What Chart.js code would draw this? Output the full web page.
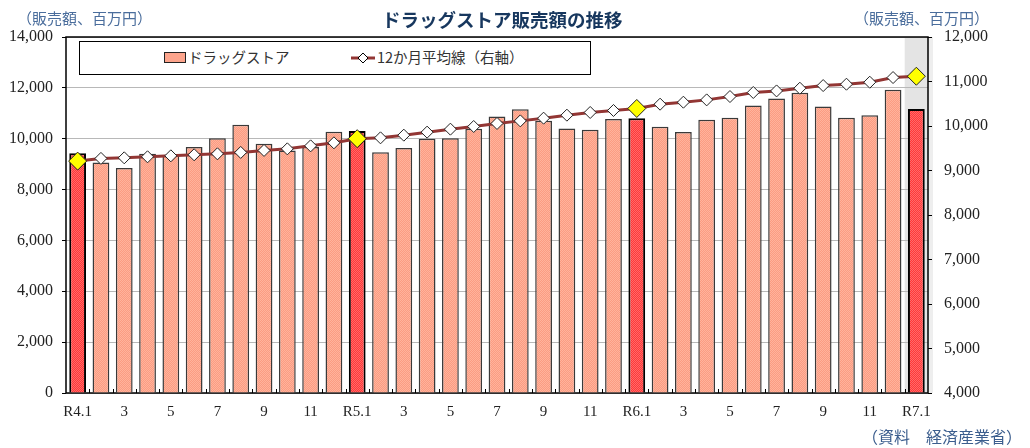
<!DOCTYPE html>
<html>
<head>
<meta charset="utf-8">
<script src="https://cdn.jsdelivr.net/npm/chart.js@4.4.1/dist/chart.umd.min.js"></script>
<style>
html, body { margin: 0; padding: 0; background: #fff; }
#wrap { position: relative; width: 1030px; height: 448px; overflow: hidden; }
#chart { position: absolute; left: 0; top: 0; }
.txt { position: absolute; white-space: nowrap; font-family: "Noto Sans CJK JP", sans-serif; line-height: 1; }
#title { left: 382px; top: 10px; font-size: 18.5px; font-weight: bold; color: #17375e; }
#unitL { left: 17px; top: 10px; font-size: 15px; color: #4a6d9c; }
#unitR { left: 854px; top: 10px; font-size: 15px; color: #4a6d9c; }
#src { left: 862px; top: 428px; font-size: 16px; color: #3c5e8e; }
#legend { position: absolute; left: 79px; top: 41px; width: 510px; height: 32px; border: 1px solid #000; background: #fff; }
#legend .sw { position: absolute; left: 84px; top: 10px; width: 20px; height: 9px; border: 1px solid #222; background: #fca48c; }
#legend svg { position: absolute; left: 271px; top: 6px; }
#legend .lb { position: absolute; top: 8px; font-size: 14.5px; color: #333; font-family: "Noto Sans CJK JP", sans-serif; white-space: nowrap; line-height: 1; }
</style>
</head>
<body>
<div id="wrap">
  <canvas id="chart" width="1030" height="448"></canvas>
  <div class="txt" id="title">ドラッグストア販売額の推移</div>
  <div class="txt" id="unitL">（販売額、百万円）</div>
  <div class="txt" id="unitR">（販売額、百万円）</div>
  <div class="txt" id="src">（資料　経済産業省）</div>
  <div id="legend">
    <div class="sw"></div>
    <span class="lb" style="left:108px">ドラッグストア</span>
    <svg width="24" height="20"><line x1="0" y1="10" x2="24" y2="10" stroke="#933634" stroke-width="3"/><polygon points="12,5 17,10 12,15 7,10" fill="#fff" stroke="#000" stroke-width="1"/></svg>
    <span class="lb" style="left:297px">12か月平均線（右軸）</span>
  </div>
</div>
<script>
// --- データ ---
const labels = [
  'R4.1', '2', '3', '4', '5', '6', '7', '8', '9', '10', '11', '12',
  'R5.1', '2', '3', '4', '5', '6', '7', '8', '9', '10', '11', '12',
  'R6.1', '2', '3', '4', '5', '6', '7', '8', '9', '10', '11', '12',
  'R7.1'
];
// 販売額（百万円）
const sales = [
  9430, 9060, 8850, 9410, 9340, 9670, 10020, 10550, 9800, 9540, 9670, 10270,
  10300, 9470, 9630, 10000, 10020, 10390, 10870, 11160, 10710, 10400, 10350, 10780,
  10800, 10470, 10260, 10750, 10820, 11310, 11580, 11810, 11270, 10820, 10920, 11930,
  11170
];
// 12か月平均線（右軸）
const avg12 = [
  9211, 9272, 9285, 9308, 9330, 9353, 9375, 9406, 9451, 9487, 9554, 9622,
  9715, 9734, 9794, 9862, 9929, 9989, 10057, 10115, 10176, 10243, 10304, 10349,
  10394, 10490, 10535, 10587, 10662, 10753, 10788, 10849, 10909, 10939, 10984, 11089,
  11118
];

// 1月かどうか（色分け用）
const isJan = labels.map(l => l.startsWith('R'));

// 網目模様
function checker(base, dot) {
  const c = document.createElement('canvas');
  c.width = 2; c.height = 2;
  const g = c.getContext('2d');
  g.fillStyle = base; g.fillRect(0, 0, 2, 2);
  g.fillStyle = dot; g.fillRect(0, 0, 1, 1); g.fillRect(1, 1, 1, 1);
  return g.createPattern(c, 'repeat');
}
const salmon = checker('#fb9c82', '#ffb39c');
const red = checker('#ff3838', '#ff6a6a');

// 枠・最終月の網掛け・内向き目盛
const framePlugin = {
  id: 'frame',
  beforeDraw(chart) {
    const { ctx, chartArea: a, scales: { x } } = chart;
    const half = (x.getPixelForValue(1) - x.getPixelForValue(0)) / 2;
    const bx = x.getPixelForValue(labels.length - 1) - half;
    ctx.save();
    ctx.fillStyle = '#e4e4e4';
    ctx.fillRect(bx, a.top, a.right - bx, a.bottom - a.top);
    ctx.fillStyle = '#eeeeee';
    ctx.fillRect(a.right, a.top, 5, a.bottom - a.top);
    ctx.restore();
  },
  beforeDatasetsDraw(chart) {
    const { ctx, chartArea: a, scales: { x } } = chart;
    const half = (x.getPixelForValue(1) - x.getPixelForValue(0)) / 2;
    ctx.save();
    ctx.strokeStyle = '#000';
    ctx.lineWidth = 1;
    for (let i = 1; i < labels.length; i++) {
      const px = Math.round(x.getPixelForValue(i) - half) + 0.5;
      ctx.beginPath();
      ctx.moveTo(px, a.bottom);
      ctx.lineTo(px, a.bottom - 4);
      ctx.stroke();
    }
    ctx.lineWidth = 1.5;
    ctx.strokeRect(a.left, a.top, a.right - a.left, a.bottom - a.top);
    ctx.restore();
  }
};

const serif = "'Liberation Serif', 'DejaVu Serif', serif";

new Chart(document.getElementById('chart'), {
  data: {
    labels: labels,
    datasets: [
      {
        type: 'line',
        label: '12か月平均線（右軸）',
        data: avg12,
        yAxisID: 'y1',
        order: 0,
        borderColor: '#933634',
        borderWidth: 3,
        tension: 0,
        pointStyle: 'rectRot',
        pointRadius: isJan.map(j => j ? 9 : 6),
        pointBackgroundColor: isJan.map(j => j ? '#ffff00' : '#ffffff'),
        pointBorderColor: '#222',
        pointBorderWidth: 1
      },
      {
        type: 'bar',
        label: 'ドラッグストア',
        data: sales,
        yAxisID: 'y',
        order: 1,
        backgroundColor: isJan.map(j => j ? red : salmon),
        borderColor: isJan.map(j => j ? '#000' : '#3a3a3a'),
        borderWidth: isJan.map(j => j ? 2 : 1.5),
        borderSkipped: 'bottom',
        categoryPercentage: 1,
        barPercentage: 0.72
      }
    ]
  },
  options: {
    responsive: false,
    animation: false,
    layout: { padding: { top: 37, left: 0, right: 32, bottom: 0 } },
    plugins: {
      legend: { display: false },
      tooltip: { enabled: false }
    },
    scales: {
      x: {
        offset: true,
        grid: { display: false, drawTicks: false },
        border: { display: false },
        ticks: {
          autoSkip: false,
          maxRotation: 0,
          padding: 10,
          color: '#222',
          font: { family: serif, size: 15 },
          callback: (v, i) => (i % 2 === 0 ? labels[i] : '')
        },
        afterFit: s => { s.height = 55; }
      },
      y: {
        position: 'left',
        min: 0,
        max: 14000,
        grid: { color: '#b8b8b8', lineWidth: 1, tickLength: 4, tickColor: '#000' },
        border: { display: false },
        ticks: {
          stepSize: 2000,
          padding: 9,
          color: '#222',
          font: { family: serif, size: 16 },
          callback: v => v.toLocaleString('en-US')
        },
        afterFit: s => { s.width = 66; }
      },
      y1: {
        position: 'right',
        min: 4000,
        max: 12000,
        grid: { drawOnChartArea: false, tickLength: 4, tickColor: '#000' },
        border: { display: false },
        ticks: {
          stepSize: 1000,
          padding: 12,
          color: '#222',
          font: { family: serif, size: 16 },
          callback: v => v.toLocaleString('en-US')
        },
        afterFit: s => { s.width = 70; }
      }
    }
  },
  plugins: [framePlugin]
});
</script>
</body>
</html>
